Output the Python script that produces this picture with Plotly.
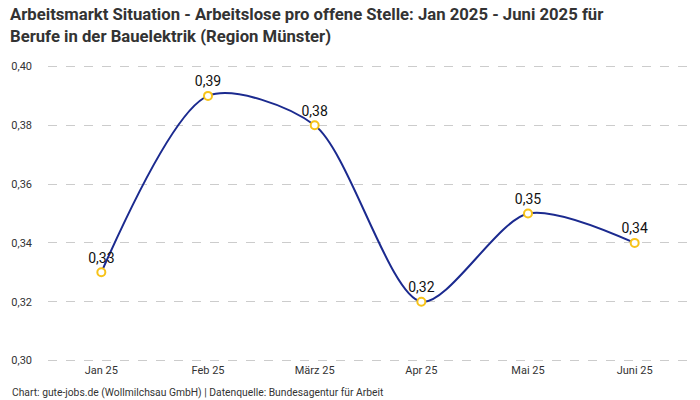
import plotly.graph_objects as go

months = ["Jan 25", "Feb 25", "März 25", "Apr 25", "Mai 25", "Juni 25"]
values = [0.33, 0.39, 0.38, 0.32, 0.35, 0.34]
labels = ["0,33", "0,39", "0,38", "0,32", "0,35", "0,34"]
y_ticks = [0.30, 0.32, 0.34, 0.36, 0.38, 0.40]

title_text = ("<b>Arbeitsmarkt Situation - Arbeitslose pro offene Stelle: Jan 2025 - Juni 2025 für"
              "<br>Berufe in der Bauelektrik (Region Münster)</b>")
source_text = "Chart: gute-jobs.de (Wollmilchsau GmbH) | Datenquelle: Bundesagentur für Arbeit"

fig = go.Figure()
fig.add_trace(go.Scatter(
    x=months, y=values,
    mode="lines+markers+text",
    line=dict(color="#1b2a8f", width=2, shape="spline", smoothing=0.8),
    marker=dict(size=8, color="white", line=dict(color="#f7c31a", width=2)),
    text=labels, textposition="top center",
    textfont=dict(family="Roboto", size=14, color="#111111"),
    hoverinfo="skip",
    cliponaxis=False,
))

fig.update_layout(
    width=700, height=400,
    margin=dict(l=48, r=12, t=64.5, b=37.5),
    plot_bgcolor="white", paper_bgcolor="white",
    showlegend=False,
    separators=",.",
    font=dict(family="Roboto", color="#333333"),
    xaxis=dict(showgrid=False, showline=False, zeroline=False,
               tickfont=dict(size=11, color="#333333"), ticks="", ticklen=0,
               range=[-0.5, 5.5]),
    yaxis=dict(range=[0.2995, 0.4005], tickvals=y_ticks, tickformat=".2f",
               showgrid=True, gridcolor="#cccccc", griddash="dash", gridwidth=1,
               zeroline=False, showline=False,
               tickfont=dict(size=11, color="#333333"), ticks="", ticklen=0),
    annotations=[
        dict(text=title_text, xref="paper", yref="paper",
             x=-0.062, y=1.21, xanchor="left", yanchor="top", align="left",
             showarrow=False,
             font=dict(family="Roboto", size=16.7, color="#333333")),
        dict(text=source_text, xref="paper", yref="paper",
             x=-0.059, y=-0.102, xanchor="left", yanchor="middle", showarrow=False,
             font=dict(family="Roboto", size=10.3, color="#333333")),
    ],
)
fig.update_yaxes(ticklabelstandoff=15)

fig.write_html("out.html", config={"displayModeBar": False},
               post_script="document.body.style.margin='0';")
